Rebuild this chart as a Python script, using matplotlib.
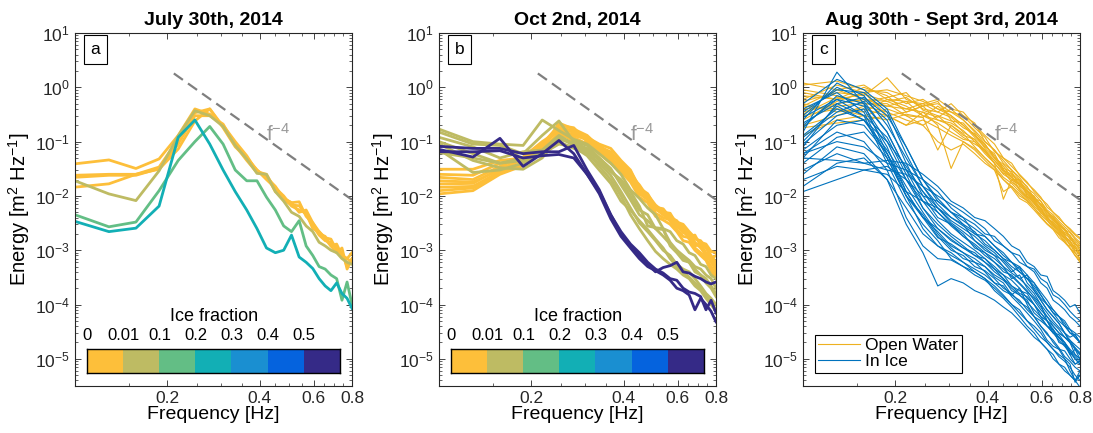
import numpy as np
import matplotlib
matplotlib.use("Agg")
import matplotlib.pyplot as plt
from matplotlib.colors import ListedColormap
from matplotlib.ticker import FixedLocator, FixedFormatter, NullFormatter, LogFormatterSciNotation

plt.rcParams['font.family'] = ['Liberation Sans', 'DejaVu Sans']
plt.rcParams['mathtext.default'] = 'regular'

# frequency bins shared by all spectra [Hz]
freq = [0.1, 0.129, 0.158, 0.188, 0.217, 0.246, 0.275, 0.304, 0.333, 0.363, 0.392, 0.421, 0.45,
        0.479, 0.508, 0.538, 0.567, 0.596, 0.625, 0.654, 0.683, 0.713, 0.742, 0.771, 0.8]

# reference f^-4 slope
ref_f = [0.21, 0.8]
ref_E = [1.8, 0.0085]

ice_colors = ['#FDBF3A', '#BEBB63', '#63BE85', '#12AFB5', '#1A8FD1', '#0563DE', '#352A87']
ice_ticks = ['0', '0.01', '0.1', '0.2', '0.3', '0.4', '0.5']

# July 30th: (ice class index, spectrum)
jul30 = [
    (0, [0.039, 0.046, 0.032, 0.048, 0.13, 0.40, 0.32, 0.20, 0.10, 0.055, 0.028, 0.025, 0.013,
         0.0085, 0.0068, 0.0066, 0.0045, 0.0028, 0.0019, 0.0015, 0.0014, 0.0011, 0.0008, 0.0007, 0.0006]),
    (0, [0.024, 0.025, 0.025, 0.034, 0.11, 0.34, 0.40, 0.19, 0.09, 0.05, 0.03, 0.022, 0.015,
         0.009, 0.0075, 0.005, 0.0055, 0.0032, 0.002, 0.0018, 0.0012, 0.0013, 0.0008, 0.0007, 0.0009]),
    (0, [0.022, 0.024, 0.024, 0.032, 0.09, 0.30, 0.30, 0.21, 0.085, 0.045, 0.027, 0.024, 0.012,
         0.009, 0.0075, 0.0078, 0.0042, 0.0032, 0.0022, 0.0017, 0.0016, 0.001, 0.0009, 0.0005, 0.0007]),
    (0, [0.0145, 0.0167, 0.025, 0.031, 0.073, 0.24, 0.40, 0.18, 0.08, 0.05, 0.03, 0.02, 0.014,
         0.01, 0.0065, 0.0055, 0.0048, 0.0025, 0.0022, 0.0016, 0.0012, 0.0009, 0.0011, 0.00045, 0.0007]),
    (1, [0.019, 0.0109, 0.0082, 0.029, 0.128, 0.37, 0.30, 0.19, 0.085, 0.048, 0.026, 0.025, 0.012,
         0.008, 0.005, 0.0042, 0.0028, 0.0022, 0.0014, 0.0012, 0.001, 0.0009, 0.0007, 0.0006, 0.00055]),
    (2, [0.0045, 0.0027, 0.0033, 0.0125, 0.045, 0.10, 0.19, 0.09, 0.03, 0.019, 0.019, 0.0095, 0.0055,
         0.0028, 0.0022, 0.0035, 0.0012, 0.0008, 0.0005, 0.00045, 0.00035, 0.0003, 0.00012, 0.00026, 0.0001]),
    (3, [0.0034, 0.0022, 0.00255, 0.0065, 0.12, 0.25, 0.09, 0.03, 0.012, 0.0055, 0.0025, 0.0011, 0.0009,
         0.001, 0.0019, 0.00075, 0.0006, 0.00046, 0.0003, 0.00022, 0.00018, 0.00025, 0.00016, 0.00013, 0.000085]),
]

# Oct 2nd
oct2 = [
    (0, [0.031, 0.031, 0.045, 0.05, 0.08, 0.18, 0.16, 0.12, 0.09, 0.075, 0.045, 0.03, 0.014,
         0.011, 0.0062, 0.0058, 0.004, 0.0035, 0.0025, 0.0021, 0.0016, 0.0015, 0.0011, 0.0008, 0.0006]),
    (0, [0.025, 0.024, 0.04, 0.045, 0.09, 0.2, 0.18, 0.1, 0.085, 0.06, 0.04, 0.024, 0.016,
         0.0095, 0.0065, 0.005, 0.0048, 0.003, 0.0028, 0.0018, 0.0019, 0.0012, 0.0012, 0.0007, 0.0008]),
    (0, [0.022, 0.02, 0.035, 0.052, 0.1, 0.16, 0.13, 0.11, 0.07, 0.05, 0.035, 0.02, 0.012,
         0.01, 0.0058, 0.0045, 0.0038, 0.0032, 0.0022, 0.0019, 0.0014, 0.0011, 0.00085, 0.0006, 0.00045]),
    (0, [0.019, 0.018, 0.03, 0.04, 0.07, 0.22, 0.17, 0.13, 0.08, 0.065, 0.038, 0.028, 0.015,
         0.0088, 0.0055, 0.0055, 0.0034, 0.0027, 0.0024, 0.0016, 0.0012, 0.0013, 0.0009, 0.00075, 0.0005]),
    (0, [0.0166, 0.017, 0.032, 0.046, 0.075, 0.13, 0.12, 0.09, 0.065, 0.045, 0.03, 0.022, 0.011,
         0.0085, 0.0048, 0.004, 0.0036, 0.0024, 0.0018, 0.0017, 0.0011, 0.0009, 0.0007, 0.0005, 0.00035]),
    (0, [0.0144, 0.015, 0.028, 0.038, 0.068, 0.15, 0.1, 0.095, 0.06, 0.04, 0.028, 0.018, 0.0095,
         0.0075, 0.0042, 0.0036, 0.003, 0.0022, 0.0015, 0.0014, 0.001, 0.0008, 0.00065, 0.00042, 0.0003]),
    (0, [0.0125, 0.014, 0.026, 0.042, 0.065, 0.14, 0.14, 0.115, 0.075, 0.055, 0.042, 0.025, 0.013,
         0.0105, 0.0068, 0.0052, 0.0044, 0.0033, 0.003, 0.0022, 0.0017, 0.0014, 0.0013, 0.00095, 0.0009]),
    (0, [0.0109, 0.0125, 0.025, 0.036, 0.085, 0.17, 0.15, 0.105, 0.07, 0.05, 0.034, 0.02, 0.013,
         0.009, 0.0058, 0.0047, 0.0041, 0.0028, 0.0021, 0.0019, 0.0013, 0.0012, 0.00075, 0.0007, 0.0004]),
    (1, [0.17, 0.1, 0.09, 0.085, 0.25, 0.16, 0.11, 0.09, 0.06, 0.04, 0.025, 0.013, 0.009,
         0.006, 0.0045, 0.0025, 0.0022, 0.0015, 0.0013, 0.0009, 0.0008, 0.00055, 0.0005, 0.00035, 0.0003]),
    (1, [0.15, 0.09, 0.085, 0.06, 0.13, 0.24, 0.1, 0.085, 0.05, 0.032, 0.016, 0.0085, 0.0045,
         0.0035, 0.0025, 0.0018, 0.0013, 0.001, 0.0008, 0.00065, 0.0005, 0.00045, 0.00035, 0.0003, 0.0002]),
    (1, [0.12, 0.08, 0.05, 0.065, 0.07, 0.13, 0.09, 0.07, 0.045, 0.028, 0.02, 0.012, 0.0065,
         0.0028, 0.0026, 0.0025, 0.0012, 0.0009, 0.00065, 0.0006, 0.0004, 0.00035, 0.00025, 0.0002, 0.00014]),
    (1, [0.1, 0.06, 0.04, 0.05, 0.055, 0.1, 0.075, 0.06, 0.04, 0.024, 0.012, 0.006, 0.0032,
         0.0022, 0.0015, 0.001, 0.0008, 0.00055, 0.00045, 0.0004, 0.0003, 0.00022, 0.00016, 0.00013, 0.0001]),
    (1, [0.09, 0.045, 0.033, 0.031, 0.05, 0.12, 0.085, 0.065, 0.035, 0.02, 0.01, 0.0045, 0.0025,
         0.0015, 0.00095, 0.0007, 0.00055, 0.00045, 0.00035, 0.0003, 0.00022, 0.00018, 0.00013, 0.0001, 0.000075]),
    (1, [0.072, 0.027, 0.03, 0.04, 0.06, 0.09, 0.08, 0.055, 0.03, 0.017, 0.008, 0.0055, 0.0035,
         0.0024, 0.0016, 0.0011, 0.0007, 0.0005, 0.0004, 0.00032, 0.00025, 0.0002, 0.00015, 0.00011, 0.00008]),
    (1, [0.063, 0.05, 0.04, 0.045, 0.065, 0.11, 0.095, 0.075, 0.05, 0.03, 0.018, 0.01, 0.0055,
         0.0045, 0.0025, 0.0024, 0.0014, 0.001, 0.00075, 0.0006, 0.00045, 0.00035, 0.0003, 0.00022, 0.00016]),
    (6, [0.072, 0.052, 0.115, 0.035, 0.06, 0.105, 0.06, 0.025, 0.012, 0.0045, 0.002, 0.0012, 0.0008,
         0.00055, 0.0004, 0.00048, 0.00052, 0.0006, 0.0004, 0.00038, 0.00033, 0.0003, 0.00026, 0.00024, 0.00026]),
    (6, [0.082, 0.075, 0.075, 0.06, 0.065, 0.065, 0.085, 0.03, 0.013, 0.0045, 0.0022, 0.0013, 0.0009,
         0.0006, 0.00045, 0.00038, 0.0003, 0.00028, 0.0002, 0.00017, 0.00016, 0.00014, 0.00008, 0.00012, 0.00007]),
    (6, [0.065, 0.065, 0.068, 0.05, 0.055, 0.058, 0.05, 0.025, 0.011, 0.0038, 0.0018, 0.0011, 0.0007,
         0.0005, 0.00042, 0.00035, 0.00028, 0.0002, 0.00018, 0.00015, 0.00008, 0.00013, 0.0001, 0.000075, 0.000048]),
]

# Aug 30th - Sept 3rd
open_water = [
    [0.55, 0.8, 0.7, 1.5, 0.6, 0.45, 0.5, 0.35, 0.3, 0.22, 0.1, 0.07, 0.04, 0.03, 0.02, 0.015,
     0.009, 0.008, 0.005, 0.004, 0.003, 0.0025, 0.0018, 0.0015, 0.0012],
    [0.35, 0.5, 0.6, 0.45, 0.4, 0.35, 0.28, 0.4, 0.25, 0.15, 0.09, 0.05, 0.035, 0.022, 0.016, 0.011,
     0.0085, 0.006, 0.0045, 0.0035, 0.0028, 0.002, 0.0017, 0.0012, 0.001],
    [1.1, 1.3, 0.9, 0.8, 0.5, 0.6, 0.4, 0.3, 0.2, 0.12, 0.08, 0.06, 0.03, 0.025, 0.018, 0.012,
     0.01, 0.0065, 0.005, 0.0042, 0.0032, 0.0024, 0.0021, 0.0016, 0.0013],
    [0.2, 0.3, 0.45, 0.35, 0.25, 0.2, 0.3, 0.18, 0.12, 0.09, 0.07, 0.04, 0.025, 0.02, 0.013, 0.009,
     0.007, 0.0055, 0.0038, 0.003, 0.0022, 0.0016, 0.0013, 0.0009, 0.0007],
    [0.7, 0.6, 1.0, 0.7, 0.35, 0.45, 0.55, 0.25, 0.15, 0.11, 0.065, 0.045, 0.028, 0.018, 0.014, 0.01,
     0.0075, 0.0058, 0.004, 0.0032, 0.0025, 0.0019, 0.0014, 0.0011, 0.0009],
    [0.13, 0.25, 0.3, 0.4, 0.3, 0.2, 0.1, 0.07, 0.09, 0.06, 0.04, 0.03, 0.012, 0.015, 0.011, 0.008,
     0.006, 0.0045, 0.0035, 0.0026, 0.002, 0.0015, 0.0011, 0.0008, 0.0006],
    [0.45, 0.9, 0.6, 0.55, 0.65, 0.4, 0.35, 0.5, 0.3, 0.18, 0.12, 0.065, 0.05, 0.035, 0.025, 0.018,
     0.012, 0.009, 0.007, 0.005, 0.0038, 0.003, 0.0024, 0.0019, 0.0016],
    [0.3, 0.4, 0.35, 0.6, 0.45, 0.3, 0.25, 0.2, 0.14, 0.08, 0.05, 0.035, 0.022, 0.017, 0.012, 0.0085,
     0.0065, 0.005, 0.0036, 0.0028, 0.0021, 0.0017, 0.0013, 0.001, 0.0008],
    [0.9, 0.7, 0.5, 0.5, 0.3, 0.28, 0.45, 0.3, 0.2, 0.13, 0.085, 0.055, 0.032, 0.028, 0.015, 0.012,
     0.0085, 0.007, 0.0045, 0.0038, 0.0027, 0.0021, 0.0019, 0.0013, 0.0011],
    [0.25, 0.55, 0.8, 0.3, 0.2, 0.35, 0.2, 0.032, 0.1, 0.07, 0.045, 0.03, 0.02, 0.014, 0.009, 0.0075,
     0.0055, 0.004, 0.003, 0.0024, 0.0017, 0.0014, 0.0011, 0.0008, 0.00065],
    [0.6, 1.1, 0.8, 0.9, 0.7, 0.55, 0.4, 0.35, 0.25, 0.16, 0.1, 0.07, 0.045, 0.03, 0.022, 0.014,
     0.011, 0.008, 0.0055, 0.0045, 0.0034, 0.0027, 0.0022, 0.0017, 0.0014],
    [0.4, 0.45, 0.5, 0.45, 0.55, 0.3, 0.22, 0.15, 0.11, 0.1, 0.06, 0.04, 0.0087, 0.02, 0.016, 0.011,
     0.0078, 0.0052, 0.0042, 0.003, 0.0024, 0.0018, 0.0015, 0.0011, 0.0009],
    [0.8, 0.6, 0.75, 0.55, 0.4, 0.5, 0.35, 0.28, 0.18, 0.14, 0.075, 0.05, 0.03, 0.022, 0.017, 0.0125,
     0.0095, 0.0068, 0.005, 0.0036, 0.0029, 0.0023, 0.0016, 0.0014, 0.001],
    [0.5, 0.35, 0.4, 0.3, 0.35, 0.45, 0.25, 0.22, 0.16, 0.1, 0.065, 0.04, 0.026, 0.024, 0.013, 0.0095,
     0.0075, 0.0048, 0.0042, 0.0029, 0.0023, 0.0017, 0.0015, 0.001, 0.00085],
    [0.32, 0.65, 0.55, 0.65, 0.8, 0.38, 0.3, 0.24, 0.22, 0.13, 0.09, 0.05, 0.038, 0.026, 0.019, 0.013,
     0.0088, 0.0072, 0.0052, 0.004, 0.0029, 0.0024, 0.0018, 0.0013, 0.0012],
    [0.18, 0.22, 0.25, 0.3, 0.2, 0.25, 0.18, 0.13, 0.1, 0.075, 0.05, 0.033, 0.02, 0.015, 0.01, 0.0082,
     0.006, 0.0042, 0.0031, 0.0025, 0.0019, 0.0014, 0.0011, 0.0009, 0.0007],
    [1.2, 0.9, 1.1, 0.6, 0.55, 0.5, 0.6, 0.4, 0.35, 0.2, 0.13, 0.09, 0.05, 0.04, 0.024, 0.017,
     0.013, 0.0095, 0.0062, 0.005, 0.0041, 0.003, 0.0025, 0.002, 0.0017],
    [0.45, 0.4, 0.3, 0.25, 0.32, 0.28, 0.07, 0.2, 0.13, 0.11, 0.07, 0.045, 0.03, 0.02, 0.02, 0.01,
     0.008, 0.006, 0.0038, 0.0033, 0.0026, 0.0019, 0.0012, 0.0012, 0.0008],
]

in_ice = [
    [0.15, 1.9, 0.5, 0.06, 0.012, 0.004, 0.0022, 0.0012, 0.0009, 0.0006, 0.0005, 0.00032, 0.00025,
     0.00015, 0.0002, 0.0001, 0.00006, 0.00005, 0.00004, 0.00003, 0.000028, 0.00002, 0.000012, 0.000015, 0.00001],
    [0.3, 1.0, 0.6, 0.25, 0.04, 0.01, 0.004, 0.003, 0.0018, 0.0012, 0.0008, 0.0006, 0.0004,
     0.00035, 0.00025, 0.00018, 0.00012, 0.00008, 0.00006, 0.00004, 0.00003, 0.000025, 0.000022, 0.000016, 0.000012],
    [0.2, 0.6, 0.45, 0.1, 0.02, 0.006, 0.0025, 0.0015, 0.0011, 0.0009, 0.0006, 0.00045, 0.0003,
     0.00018, 0.00015, 0.00012, 0.00007, 0.000055, 0.00004, 0.000035, 0.00002, 0.000018, 0.000012, 0.000008, 0.000009],
    [0.08, 0.5, 0.3, 0.04, 0.008, 0.003, 0.0015, 0.0007, 0.0005, 0.0004, 0.0003, 0.00022, 0.00015,
     0.0001, 0.00008, 0.00005, 0.000035, 0.000025, 0.00002, 0.000015, 0.000012, 0.00001, 0.000006, 0.000004, 0.000005],
    [0.12, 0.35, 0.55, 0.15, 0.03, 0.008, 0.0035, 0.002, 0.0014, 0.001, 0.0007, 0.0005, 0.00035,
     0.00028, 0.0002, 0.00013, 0.0001, 0.00007, 0.00005, 0.00003, 0.000025, 0.000018, 0.000014, 0.00001, 0.000008],
    [0.4, 0.8, 0.35, 0.05, 0.01, 0.0045, 0.0018, 0.001, 0.0008, 0.0005, 0.00042, 0.0003, 0.0002,
     0.00016, 0.00011, 0.00009, 0.00006, 0.00004, 0.000028, 0.000022, 0.000016, 0.000011, 0.000009, 0.000007, 0.000006],
    [0.05, 0.25, 0.2, 0.06, 0.015, 0.005, 0.002, 0.0011, 0.0007, 0.0006, 0.0004, 0.00025, 0.00022,
     0.00014, 0.0001, 0.00007, 0.00005, 0.000035, 0.000022, 0.000017, 0.000015, 0.00001, 0.000008, 0.0000037, 0.000005],
    [0.025, 0.08, 0.06, 0.02, 0.006, 0.002, 0.0012, 0.0008, 0.0006, 0.00045, 0.00035, 0.00025, 0.00018,
     0.00015, 0.00012, 0.00008, 0.00006, 0.00004, 0.00003, 0.00002, 0.000015, 0.000014, 0.00001, 0.000008, 0.000009],
    [0.05, 0.045, 0.04, 0.045, 0.04, 0.025, 0.015, 0.008, 0.006, 0.004, 0.0035, 0.0025, 0.0018,
     0.0012, 0.001, 0.0006, 0.0005, 0.00035, 0.00033, 0.00018, 0.00015, 0.00012, 0.00009, 0.0001, 0.00007],
    [0.012, 0.02, 0.03, 0.025, 0.012, 0.008, 0.006, 0.004, 0.003, 0.0015, 0.0011, 0.0008, 0.00065,
     0.00045, 0.0003, 0.00035, 0.00018, 0.00012, 0.00008, 0.00006, 0.000045, 0.00003, 0.000025, 0.000028, 0.00002],
    [0.18, 0.7, 0.5, 0.15, 0.03, 0.012, 0.006, 0.0035, 0.0025, 0.0018, 0.0012, 0.0009, 0.0006,
     0.0004, 0.0005, 0.00025, 0.00018, 0.00012, 0.00008, 0.00006, 0.000045, 0.00003, 0.000022, 0.000018, 0.000015],
    [0.06, 0.15, 0.1, 0.03, 0.004, 0.0012, 0.0007, 0.00066, 0.0005, 0.00035, 0.00028, 0.0002, 0.00014,
     0.0001, 0.00007, 0.00005, 0.00004, 0.00003, 0.00002, 0.000015, 0.000011, 0.000009, 0.000007, 0.000005, 0.000004],
    [0.1, 0.45, 0.25, 0.07, 0.02, 0.008, 0.005, 0.003, 0.002, 0.0011, 0.0009, 0.0007, 0.0005,
     0.0003, 0.00035, 0.0002, 0.00014, 0.0001, 0.00005, 0.00004, 0.00003, 0.000025, 0.00002, 0.000012, 0.00001],
    [0.03, 0.06, 0.04, 0.03, 0.025, 0.015, 0.01, 0.007, 0.005, 0.0035, 0.0025, 0.0015, 0.0012,
     0.0009, 0.0006, 0.0005, 0.0004, 0.00025, 0.0002, 0.00012, 0.0001, 0.00008, 0.00006, 0.00005, 0.00004],
    [0.25, 1.2, 0.7, 0.2, 0.05, 0.015, 0.007, 0.004, 0.0028, 0.002, 0.0015, 0.001, 0.0007,
     0.0005, 0.0004, 0.0003, 0.0002, 0.00013, 0.0001, 0.00007, 0.00005, 0.00004, 0.00003, 0.000025, 0.00002],
    [0.015, 0.04, 0.05, 0.02, 0.003, 0.0009, 0.00022, 0.0003, 0.00025, 0.00018, 0.00015, 0.00012, 0.00009,
     0.00007, 0.00005, 0.000035, 0.000025, 0.00002, 0.000015, 0.000012, 0.000008, 0.000006, 0.000005, 0.000004, 0.000006],
    [0.35, 0.9, 0.8, 0.35, 0.06, 0.015, 0.006, 0.0032, 0.0022, 0.0015, 0.001, 0.0008, 0.0005,
     0.00038, 0.0003, 0.00022, 0.00016, 0.0001, 0.00007, 0.00005, 0.000038, 0.00003, 0.00002, 0.000015, 0.000012],
    [0.09, 0.3, 0.4, 0.08, 0.012, 0.004, 0.0017, 0.0013, 0.0009, 0.0007, 0.0005, 0.00035, 0.00028,
     0.0002, 0.00015, 0.00011, 0.00008, 0.00006, 0.00004, 0.00003, 0.000022, 0.000017, 0.000013, 0.00001, 0.000008],
    [0.22, 0.5, 0.65, 0.3, 0.08, 0.02, 0.008, 0.005, 0.003, 0.0022, 0.0013, 0.001, 0.0007,
     0.0006, 0.00045, 0.0003, 0.00022, 0.00015, 0.0001, 0.00007, 0.00006, 0.000045, 0.00003, 0.000028, 0.00002],
    [0.04, 0.12, 0.15, 0.05, 0.01, 0.004, 0.0025, 0.0016, 0.0011, 0.0008, 0.0006, 0.0004, 0.0003,
     0.00022, 0.00016, 0.00014, 0.0001, 0.00007, 0.00005, 0.000035, 0.000025, 0.00002, 0.000014, 0.000011, 0.000009],
    [0.28, 0.6, 0.3, 0.12, 0.025, 0.006, 0.003, 0.0018, 0.0012, 0.0008, 0.0007, 0.00045, 0.00035,
     0.00022, 0.00018, 0.00016, 0.0001, 0.00006, 0.00005, 0.000033, 0.000024, 0.00002, 0.000015, 0.000012, 0.00001],
    [0.07, 0.2, 0.25, 0.1, 0.035, 0.012, 0.005, 0.0028, 0.0018, 0.0013, 0.0009, 0.0006, 0.00045,
     0.00033, 0.00024, 0.00017, 0.00013, 0.00009, 0.00006, 0.000045, 0.000035, 0.000025, 0.00002, 0.000016, 0.000013],
    [0.02, 0.035, 0.03, 0.035, 0.02, 0.01, 0.008, 0.005, 0.004, 0.003, 0.002, 0.0018, 0.0012,
     0.0009, 0.0008, 0.0005, 0.00045, 0.0003, 0.00025, 0.00015, 0.00013, 0.0001, 0.000075, 0.00006, 0.00005],
    [0.13, 0.4, 0.25, 0.06, 0.01, 0.0025, 0.0012, 0.0009, 0.0006, 0.0004, 0.0003, 0.00018, 0.00013,
     0.00009, 0.00006, 0.00004, 0.00003, 0.00002, 0.000015, 0.00001, 0.000008, 0.000007, 0.000005, 0.000004, 0.000003],
    [0.5, 1.4, 0.9, 0.4, 0.08, 0.02, 0.009, 0.005, 0.0035, 0.0025, 0.0018, 0.0012, 0.0009,
     0.0006, 0.0005, 0.00035, 0.00025, 0.00017, 0.00012, 0.00008, 0.00006, 0.00005, 0.000035, 0.00003, 0.000025],
    [0.06, 0.1, 0.08, 0.04, 0.03, 0.02, 0.012, 0.006, 0.004, 0.002, 0.0018, 0.0012, 0.0008,
     0.0006, 0.0004, 0.0003, 0.00025, 0.00015, 0.0001, 0.00008, 0.00006, 0.00004, 0.000035, 0.000025, 0.00002],
]

titles = ['July 30th, 2014', 'Oct 2nd, 2014', 'Aug 30th - Sept 3rd, 2014']
letters = ['a', 'b', 'c']

fig = plt.figure(figsize=(10.93, 4.33), dpi=100)
lefts = [75, 439, 803]
axes = [fig.add_axes([l / 1093, 47 / 433, 277 / 1093, 353 / 433]) for l in lefts]


def style_axis(ax, title, letter):
    ax.set_xscale('log')
    ax.set_yscale('log')
    ax.set_xlim(0.1, 0.8)
    ax.set_ylim(10 ** -5.5, 10)
    ax.xaxis.set_major_locator(FixedLocator([0.2, 0.4, 0.6, 0.8]))
    ax.xaxis.set_major_formatter(FixedFormatter(['0.2', '0.4', '0.6', '0.8']))
    ax.xaxis.set_minor_locator(FixedLocator([0.15, 0.25, 0.3, 0.35, 0.45, 0.5, 0.55, 0.65, 0.7, 0.75]))
    ax.xaxis.set_minor_formatter(NullFormatter())
    ax.yaxis.set_major_locator(FixedLocator([10.0 ** p for p in range(-5, 2)]))
    ax.yaxis.set_major_formatter(LogFormatterSciNotation())
    ax.yaxis.set_minor_locator(FixedLocator([m * 10.0 ** p for p in range(-6, 1) for m in range(2, 10)]))
    ax.yaxis.set_minor_formatter(NullFormatter())
    ax.tick_params(which='both', direction='in', top=True, right=True, labelsize=12.5, colors='#262626')
    ax.tick_params(which='major', length=4.5, width=0.6)
    ax.tick_params(which='minor', length=2.5, width=0.5)
    for s in ax.spines.values():
        s.set_linewidth(0.8)
        s.set_color('#262626')
    ax.set_xlabel('Frequency [Hz]', fontsize=14, labelpad=0)
    ax.set_ylabel('Energy [m$^2$ Hz$^{-1}$]', fontsize=14.5, labelpad=2)
    ax.set_title(title, fontsize=14, fontweight='bold', pad=6)
    ax.plot(ref_f, ref_E, color='#7f7f7f', lw=1.6, linestyle=(0, (5, 2.8)))
    ax.text(0.46, 0.14, 'f$^{-4}$', color='#999999', fontsize=15, ha='center', va='center')
    ax.text(0.074, 0.953, letter, transform=ax.transAxes, fontsize=12.5, ha='center', va='center',
            bbox=dict(boxstyle='square,pad=0.4', fc='white', ec='black', lw=0.8))


def ice_colorbar(ax):
    cax = ax.inset_axes([0.045, 0.037, 0.912, 0.068])
    cax.imshow(np.arange(len(ice_colors))[None, :], cmap=ListedColormap(ice_colors),
               aspect='auto', extent=[0, len(ice_colors), 0, 1])
    cax.set_xticks(range(len(ice_ticks)))
    cax.set_xticklabels(ice_ticks)
    cax.set_yticks([])
    cax.xaxis.tick_top()
    cax.tick_params(length=0, labelsize=12, pad=4)
    cax.set_xlabel('Ice fraction', fontsize=13, labelpad=5)
    cax.xaxis.set_label_position('top')
    for s in cax.spines.values():
        s.set_linewidth(1.0)


ax = axes[0]
for idx, spec in jul30:
    ax.plot(freq, spec, color=ice_colors[idx], lw=2)
style_axis(ax, titles[0], letters[0])
ice_colorbar(ax)

ax = axes[1]
for idx, spec in oct2:
    ax.plot(freq, spec, color=ice_colors[idx], lw=2)
style_axis(ax, titles[1], letters[1])
ice_colorbar(ax)

ax = axes[2]
for i, spec in enumerate(open_water):
    ax.plot(freq, spec, color='#EDB120', lw=0.8, label='Open Water' if i == 0 else None)
for i, spec in enumerate(in_ice):
    ax.plot(freq, spec, color='#0072BD', lw=0.8, label='In Ice' if i == 0 else None)
style_axis(ax, titles[2], letters[2])
leg = ax.legend(loc='lower left', bbox_to_anchor=(0.043, 0.037), borderaxespad=0, fontsize=12.5,
                fancybox=False, edgecolor='black', handlelength=2.4, handletextpad=0.3,
                borderpad=0.2, labelspacing=0.05, framealpha=1)
leg.get_frame().set_linewidth(0.8)

fig.savefig('out.png', dpi=100)
